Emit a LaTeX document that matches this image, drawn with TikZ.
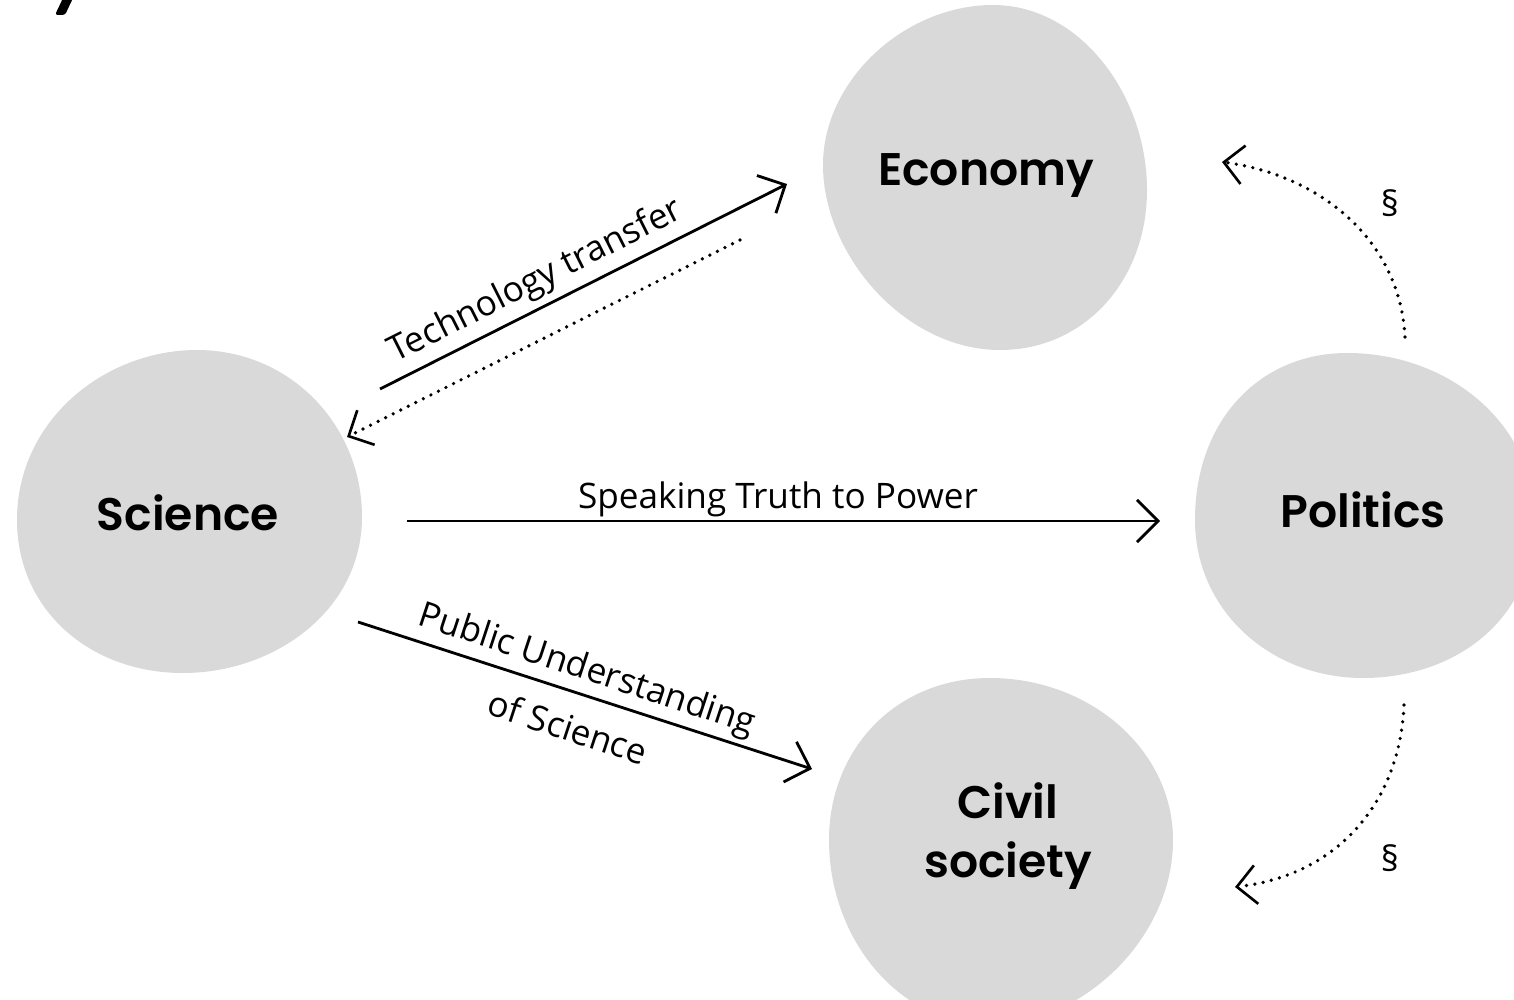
\documentclass[tikz,border=0pt]{standalone}
\usepackage{fontspec}
\setmainfont{Open Sans}
\newfontfamily\blobfont{Poppins}[UprightFont={* SemiBold}]
\usetikzlibrary{arrows.meta}
\definecolor{blobgray}{HTML}{D9D9D9}
\begin{document}
\begin{tikzpicture}[x=0.02cm,y=-0.02cm,
  blob/.style={fill=blobgray, draw=none},
  blobtext/.style={font=\blobfont\fontsize{26}{34}\selectfont, inner sep=0pt},
  edgetext/.style={font=\fontsize{20}{36}\selectfont, inner sep=0pt},
  sectext/.style={font=\fontsize{20}{24}\selectfont, inner sep=0pt},
  solidarrow/.style={line width=1.6pt, -{Straight Barb[length=12pt,width=24pt,line width=1.6pt]}},
  dotarrow/.style={line width=2.1pt, line cap=round, dash pattern=on 0pt off 4.8pt,
    -{Straight Barb[length=11pt,width=22pt,line width=1.5pt]}}
]
\clip (0,0) rectangle (1514,1000);
\fill[white] (0,0) rectangle (1514,1000);

% corner fragment
\fill[rounded corners=1.5] (55,15) -- (65,15) -- (74,-4) -- (64,-4) -- cycle;

% blobs
\fill[blob] (993,5) .. controls (1080,5) and (1147,95) .. (1147,190)
  .. controls (1147,280) and (1085,350) .. (1000,350)
  .. controls (905,350) and (823,255) .. (823,165)
  .. controls (823,80) and (905,5) .. cycle;
\fill[blob] (197,350) .. controls (290,350) and (362,425) .. (362,517)
  .. controls (362,610) and (275,673) .. (183,673)
  .. controls (90,673) and (17,610) .. (17,520)
  .. controls (17,420) and (105,350) .. cycle;
\fill[blob] (1347,353) .. controls (1450,353) and (1535,425) .. (1535,520)
  .. controls (1535,620) and (1455,678) .. (1363,678)
  .. controls (1270,678) and (1195,610) .. (1195,520)
  .. controls (1195,420) and (1260,353) .. cycle;
\fill[blob] (990,678) .. controls (1090,678) and (1173,750) .. (1173,840)
  .. controls (1173,940) and (1080,1025) .. (990,1025)
  .. controls (900,1025) and (829,940) .. (829,840)
  .. controls (829,750) and (895,678) .. cycle;

% blob labels
\node[blobtext, anchor=base] (eco) at (986,186) {Economy};
\node[blobtext, anchor=base] (sci) at (188,530) {Science};
\node[blobtext, anchor=base] (pol) at (1363,527) {Politics};
\node[blobtext, align=center, anchor=center] (civ) at (1008,836) {Civil\\society};

% connector end points
\coordinate (tts) at (380,389);
\coordinate (tte) at (787,184);
\coordinate (tbs) at (740,240);
\coordinate (tbe) at (347,437);
\coordinate (sps) at (407,521);
\coordinate (spe) at (1160,521);
\coordinate (pus) at (358,622);
\coordinate (pue) at (812,769);
\coordinate (pes) at (1405,337);
\coordinate (pee) at (1222,162);
\coordinate (pcs) at (1404,705);
\coordinate (pce) at (1235,887);

% connectors
\draw[solidarrow] (tts) -- (tte);
\draw[dotarrow] (tbs) -- (tbe);
\draw[solidarrow] (sps) -- (spe);
\draw[solidarrow] (pus) -- (pue);
\draw[dotarrow] (pes) .. controls (1400,240) and (1320,175) .. (pee);
\draw[dotarrow] (pcs) .. controls (1400,800) and (1340,875) .. (pce);

% connector labels
\node[edgetext, anchor=base, rotate=26.7] (ttl) at (540,290) {Technology transfer};
\node[edgetext, anchor=base] (spl) at (778,508) {Speaking Truth to Power};
\node[edgetext, align=center, anchor=center, rotate=-18.2] (pul) at (578,697) {Public Understanding\\of Science};
\node[sectext] (s1) at (1390,203) {§};
\node[sectext] (s2) at (1390,858) {§};
\end{tikzpicture}
\end{document}
